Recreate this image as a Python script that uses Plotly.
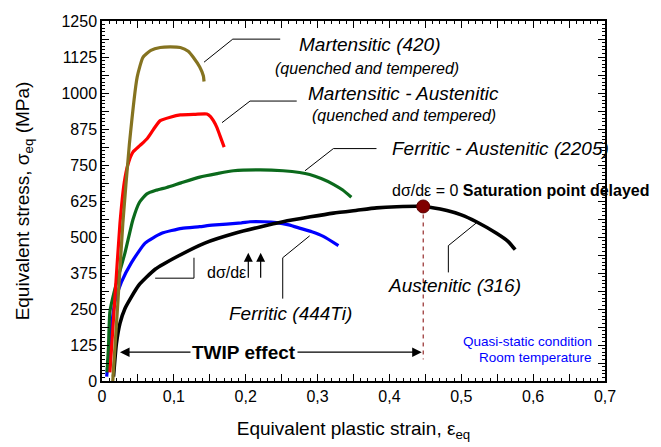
import plotly.graph_objects as go

# ---------------- data ----------------
mart420_x = [0.015, 0.022, 0.029, 0.038, 0.049, 0.057, 0.068, 0.081, 0.095, 0.109, 0.120, 0.127, 0.136, 0.141, 0.142]
mart420_y = [0, 270, 547, 820, 1056, 1124, 1148, 1158, 1160, 1158, 1145, 1124, 1090, 1060, 1040]

martaus_x = [0.011, 0.018, 0.025, 0.031, 0.036, 0.043, 0.053, 0.063, 0.072, 0.081, 0.095, 0.109, 0.130, 0.146, 0.151, 0.155, 0.160, 0.164, 0.170]
martaus_y = [30, 290, 547, 690, 751, 795, 818, 842, 875, 904, 916, 924, 926, 927, 918, 904, 880, 853, 812]

ferraus_x = [0.007, 0.009, 0.011, 0.018, 0.032, 0.043, 0.052, 0.062, 0.075, 0.090, 0.110, 0.136, 0.160, 0.183, 0.220, 0.252, 0.275, 0.289, 0.305, 0.322, 0.335, 0.347]
ferraus_y = [30, 117, 241, 320, 445, 560, 620, 649, 662, 672, 688, 708, 720, 730, 733, 730, 724, 717, 703, 683, 663, 638]

ferr444_x = [0.0065, 0.009, 0.011, 0.018, 0.027, 0.041, 0.060, 0.083, 0.111, 0.136, 0.153, 0.194, 0.206, 0.225, 0.243, 0.260, 0.276, 0.292, 0.308, 0.329]
ferr444_y = [15, 80, 139, 275, 343, 411, 479, 513, 530, 536, 541, 549, 553, 553, 550, 542, 530, 518, 502, 470]

aus316_x = [0.016, 0.020, 0.025, 0.032, 0.051, 0.074, 0.106, 0.143, 0.185, 0.220, 0.252, 0.290, 0.322, 0.355, 0.382, 0.410, 0.447, 0.480, 0.500, 0.521, 0.549, 0.565, 0.575]
aus316_y = [15, 129, 200, 252, 332, 388, 434, 479, 513, 535, 553, 570, 583, 593, 601, 605, 606, 592, 577, 553, 513, 485, 456]

sat_x = [0.447]
sat_y = [606]
sat_drop_y = [606, 75]

twip_y = 100
twip_left = 0.025
twip_right = 0.445
twip_text_x = 0.198

x_tickvals = [0, 0.05, 0.1, 0.15, 0.2, 0.25, 0.3, 0.35, 0.4, 0.45, 0.5, 0.55, 0.6, 0.65, 0.7]
x_ticktext = ["0", "", "0,1", "", "0,2", "", "0,3", "", "0,4", "", "0,5", "", "0,6", "", "0,7"]
y_tickvals = [0, 62.5, 125, 187.5, 250, 312.5, 375, 437.5, 500, 562.5, 625, 687.5, 750, 812.5,
              875, 937.5, 1000, 1062.5, 1125, 1187.5, 1250]
y_ticktext = ["0", "", "125", "", "250", "", "375", "", "500", "", "625", "", "750", "",
              "875", "", "1000", "", "1125", "", "1250"]

# leader lines (data coordinates)
lead420_x = [0.142, 0.182, 0.248]
lead420_y = [1107, 1187, 1187]
leadma_x = [0.167, 0.206, 0.271]
leadma_y = [897, 972, 972]
leadfa_x = [0.2825, 0.322, 0.382]
leadfa_y = [730, 807, 807]
lead444_x = [0.289, 0.2515, 0.2515]
lead444_y = [504, 428, 286]
lead316_x = [0.521, 0.482, 0.482]
lead316_y = [549, 470, 377]
slope_x = [0.074, 0.128, 0.128]
slope_y = [357, 357, 428]
uparrow_x = [0.2036, 0.2208]
uparrow_y0 = 353
uparrow_y1 = 445

FONT = "Liberation Sans, Arial, sans-serif"

fig = go.Figure()

def curve(x, y, color, width):
    fig.add_trace(go.Scatter(x=x, y=y, mode="lines", line=dict(color=color, width=width, shape="spline", smoothing=0.5),
                             showlegend=False, hoverinfo="skip"))

def thin(x, y, color="black", width=1, dash=None):
    fig.add_trace(go.Scatter(x=x, y=y, mode="lines", line=dict(color=color, width=width, dash=dash),
                             showlegend=False, hoverinfo="skip"))

curve(ferr444_x, ferr444_y, "#0000ff", 3.2)
curve(aus316_x, aus316_y, "#000000", 3.6)
curve(ferraus_x, ferraus_y, "#0b6a1c", 3.2)
curve(martaus_x, martaus_y, "#ff0000", 3.2)
curve(mart420_x, mart420_y, "#857320", 3.2)

for lx, ly in [(lead420_x, lead420_y), (leadma_x, leadma_y), (leadfa_x, leadfa_y),
               (lead444_x, lead444_y), (lead316_x, lead316_y), (slope_x, slope_y)]:
    thin(lx, ly)

thin([sat_x[0], sat_x[0]], sat_drop_y, color="#800000", width=1, dash="4px,4px")
fig.add_trace(go.Scatter(x=sat_x, y=sat_y, mode="markers",
                         marker=dict(size=13, color="#800000", line=dict(color="#5a0000", width=1)),
                         showlegend=False, hoverinfo="skip"))

annotations = []

def txt(x, y, text, size, italic=False, bold=False, color="black", xanchor="center", bg=None):
    t = text
    if bold:
        t = "<b>" + t + "</b>"
    if italic:
        t = "<i>" + t + "</i>"
    d = dict(x=x, y=y, xref="x", yref="y", text=t, showarrow=False, xanchor=xanchor, yanchor="middle",
             font=dict(family=FONT, size=size, color=color))
    if bg:
        d["bgcolor"] = bg
    annotations.append(d)

def arrow(x0, y0, x1, y1, size=1.0, width=1.2):
    annotations.append(dict(x=x1, y=y1, ax=x0, ay=y0, xref="x", yref="y", axref="x", ayref="y",
                            text="", showarrow=True, arrowhead=2, arrowsize=size, arrowwidth=width,
                            arrowcolor="black", standoff=0, startstandoff=0))

# TWIP effect double arrow
arrow(twip_text_x, twip_y, twip_left, twip_y, size=1.6, width=1.2)
arrow(twip_text_x, twip_y, twip_right, twip_y, size=1.6, width=1.2)
txt(twip_text_x, twip_y, "TWIP effect", 19, bold=True, bg="white")

# d sigma / d eps arrows
for ux in uparrow_x:
    arrow(ux, uparrow_y0, ux, uparrow_y1, size=1.5, width=1.2)

txt(0.373, 1169, "Martensitic (420)", 19, italic=True)
txt(0.369, 1084, "(quenched and tempered)", 16, italic=True)
txt(0.42, 999, "Martensitic - Austenitic", 19, italic=True)
txt(0.42, 921, "(quenched and tempered)", 16, italic=True)
txt(0.555, 808, "Ferritic - Austenitic (2205)", 19, italic=True)
txt(0.263, 235, "Ferritic (444Ti)", 19, italic=True)
txt(0.49, 333, "Austenitic (316)", 19, italic=True)
txt(0.401, 660, "dσ/dε = 0 <b>Saturation point delayed</b>", 16, xanchor="left")
txt(0.143, 377, "dσ/dε", 16, xanchor="left")
txt(0.684, 137, "Quasi-static condition", 13.5, color="#0000ff", xanchor="right")
txt(0.684, 83, "Room temperature", 13.5, color="#0000ff", xanchor="right")

axis_common = dict(showline=True, linecolor="black", linewidth=1.5, mirror="allticks",
                   ticks="inside", ticklen=7, tickwidth=1, tickcolor="black",
                   showgrid=False, zeroline=False, ticklabeloverflow="allow",
                   tickfont=dict(family=FONT, size=16, color="black"))

# the page body adds an 8px offset, so margins are shifted to keep the plot area in place
fig.update_layout(
    width=661, height=447,
    margin=dict(l=94, r=64, t=5, b=74),
    paper_bgcolor="white", plot_bgcolor="white",
    font=dict(family=FONT, color="black"),
    annotations=annotations,
    xaxis=dict(range=[0, 0.7], tickvals=x_tickvals, ticktext=x_ticktext,
               minor=dict(dtick=0.01, ticks="inside", ticklen=3.5, tickcolor="black", tickwidth=1),
               title=dict(text="Equivalent plastic strain, ε<sub>eq</sub>", font=dict(family=FONT, size=19), standoff=18),
               **axis_common),
    yaxis=dict(range=[0, 1250], tickvals=y_tickvals, ticktext=y_ticktext,
               minor=dict(dtick=12.5, ticks="inside", ticklen=3.5, tickcolor="black", tickwidth=1),
               title=dict(text="Equivalent stress, σ<sub>eq</sub> (MPa)", font=dict(family=FONT, size=19), standoff=27),
               **axis_common),
)

fig.write_html("out.html")
